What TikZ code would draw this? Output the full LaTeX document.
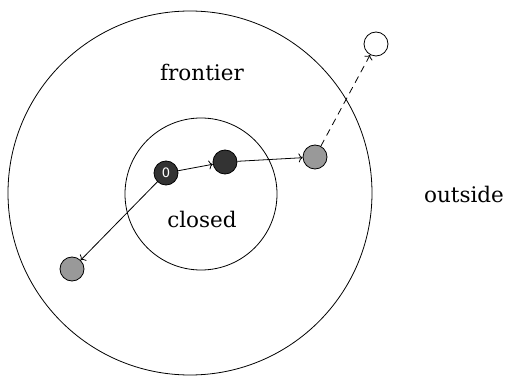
\documentclass[tikz,border=0pt]{standalone}
\usepackage{fontspec}
\setmainfont{DejaVu Serif}
\setsansfont{DejaVu Sans}
\usetikzlibrary{arrows.meta}
\begin{document}
\begin{tikzpicture}[x=1pt,y=-1pt,
  st/.style={circle,draw,line width=0.8pt,minimum size=24pt,inner sep=0pt},
  dk/.style={st,fill=black!80},
  gr/.style={st,fill=black!40},
  wh/.style={st,fill=white},
  lbl/.style={font=\fontsize{21.5}{24}\selectfont},
  ed/.style={-{To[length=4pt,width=9pt]},line width=0.8pt}]
\useasboundingbox (0,0) rectangle (509,385);
\node[circle,draw,line width=0.8pt,minimum size=364pt,inner sep=0pt] (outer) at (190,193) {};
\node[circle,draw,line width=0.8pt,minimum size=152pt,inner sep=0pt] (inner) at (201,194) {};
\node[lbl] (tf) at (202,72) {frontier};
\node[lbl] (tc) at (202,219) {closed};
\node[lbl] (to) at (464,194) {outside};
\node[dk,text=white,font=\sffamily\fontsize{13}{14}\selectfont] (n0) at (166,173) {0};
\node[dk] (n1) at (225,162) {};
\node[gr] (n2) at (315,157) {};
\node[wh] (n3) at (376,44) {};
\node[gr] (n4) at (72,269) {};
\draw[ed] (n0) -- (n1);
\draw[ed] (n1) -- (n2);
\draw[ed] (n0) -- (n4);
\draw[ed,dash pattern=on 7pt off 5pt] (n2) -- (n3);
\end{tikzpicture}
\end{document}
